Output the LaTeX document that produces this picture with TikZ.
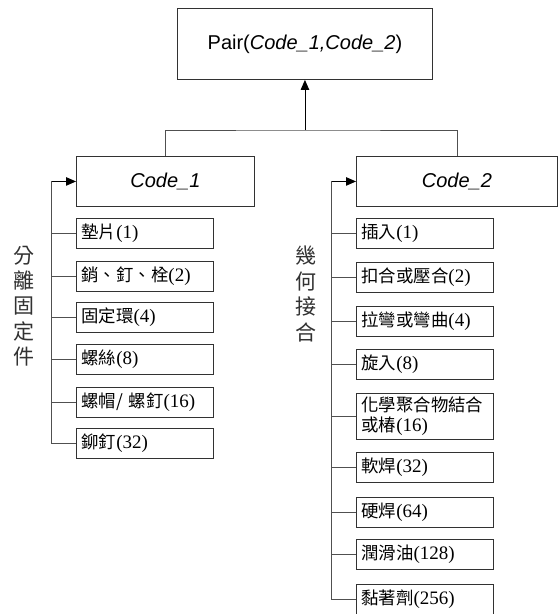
\documentclass[tikz,border=0pt]{standalone}
\usepackage{fontspec}
\setmainfont{Liberation Serif}
\setsansfont{Liberation Sans}
\newfontfamily\cjk{Noto Sans CJK TC}
\usetikzlibrary{arrows.meta}
\definecolor{linec}{RGB}{80,80,80}
\definecolor{boxc}{RGB}{50,50,50}
\newcommand\zh[1]{{\cjk #1}}
\newcommand\itemfont{\fontsize{17.4}{20}\selectfont}
\newcommand\itm[2]{\zh{#1}{\fontsize{19}{20}\selectfont #2}}
\begin{document}
\begin{tikzpicture}[x=1pt,y=-1pt,
  conn/.style={draw=linec, line width=0.9pt},
  tip/.style={-{Triangle[length=10pt,width=8.5pt]}, draw=black},
  headbox/.style={draw=boxc, line width=0.9pt, anchor=north west, inner sep=0pt,
    font=\sffamily\fontsize{20}{24}\selectfont},
  itembox/.style={draw=boxc, line width=0.9pt, anchor=north west,
    minimum width=137pt, minimum height=30pt, inner xsep=5pt, inner ysep=0pt,
    text width=127pt, align=left, font=\itemfont},
  sidelabel/.style={align=center, text=boxc, font=\cjk\fontsize{21}{25.4}\selectfont}
]
\useasboundingbox (0,0) rectangle (560,614);

% root and the two code boxes
\node[headbox, minimum width=255pt, minimum height=71pt] (top) at (177,8)
  {Pair(\textit{Code\_1,Code\_2})};
\node[headbox, minimum width=178pt, minimum height=50pt] (c1) at (76,156) {\textit{Code\_1}};
\node[headbox, minimum width=201pt, minimum height=50pt] (c2) at (356,156) {\textit{Code\_2}};

\coordinate (j) at (top.south |- 0,130);
\draw[conn] (c1.north) |- (j) -| (c2.north);
\draw[conn, tip] (j) -- (top.south);

% separate fasteners
\node[itembox] (l1) at (76,218) {\itm{墊片}{(1)}};
\node[itembox] (l2) at (76,261) {\itm{銷、釘、栓}{(2)}};
\node[itembox] (l3) at (76,302) {\itm{固定環}{(4)}};
\node[itembox] (l4) at (76,344) {\itm{螺絲}{(8)}};
\node[itembox] (l5) at (76,387) {\itm{螺帽/ 螺釘}{(16)}};
\node[itembox] (l6) at (76,428) {\itm{鉚釘}{(32)}};

\coordinate (lbus) at (51,0 |- c1.west);
\draw[conn, tip] (lbus) -- (c1.west);
\draw[conn] (lbus) |- (l6.west);
\foreach \n in {l1,l2,l3,l4,l5}
  \draw[conn] (\n.west) -- (lbus |- \n.west);

\node[sidelabel] (lab1) at (24,306) {分\\離\\固\\定\\件};

% geometric joints
\node[itembox] (r1) at (356,218) {\itm{插入}{(1)}};
\node[itembox] (r2) at (356,262) {\itm{扣合或壓合}{(2)}};
\node[itembox] (r3) at (356,306) {\itm{拉彎或彎曲}{(4)}};
\node[itembox] (r4) at (356,349) {\itm{旋入}{(8)}};
\node[itembox, minimum height=46pt] (r5) at (356,393)
  {\zh{化學聚合物結合}\\\itm{或椿}{(16)}};
\node[itembox] (r6) at (356,452) {\itm{軟焊}{(32)}};
\node[itembox] (r7) at (356,497) {\itm{硬焊}{(64)}};
\node[itembox] (r8) at (356,539) {\itm{潤滑油}{(128)}};
\node[itembox] (r9) at (356,584) {\itm{黏著劑}{(256)}};

\coordinate (rbus) at (331,0 |- c2.west);
\draw[conn, tip] (rbus) -- (c2.west);
\draw[conn] (rbus) |- (r9.west);
\foreach \n in {r1,r2,r3,r4,r5,r6,r7,r8}
  \draw[conn] (\n.west) -- (rbus |- \n.west);

\node[sidelabel] (lab2) at (306,294) {幾\\何\\接\\合};
\end{tikzpicture}
\end{document}
